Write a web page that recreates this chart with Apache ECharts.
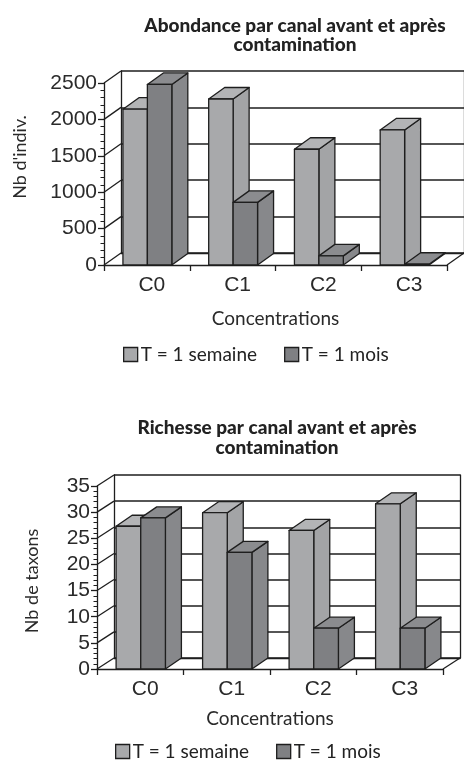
<!DOCTYPE html>
<html>
<head>
<meta charset="utf-8">
<script src="https://cdn.jsdelivr.net/npm/echarts@6/dist/echarts.min.js"></script>
<style>
html,body{margin:0;padding:0;background:#fff;}
#main{width:464px;height:760px;}
</style>
</head>
<body>
<div id="main"></div>
<script>
// ---- data ----
var categories = ['C0', 'C1', 'C2', 'C3'];
var seriesNames = ['T = 1 semaine', 'T = 1 mois'];
var abondanceSemaine = [2140, 2280, 1590, 1855];
var abondanceMois = [2480, 860, 125, 10];
var richesseSemaine = [27.3, 29.9, 26.5, 31.6];
var richesseMois = [28.9, 22.3, 7.8, 7.8];
var abondanceTicks = [0, 500, 1000, 1500, 2000, 2500];
var richesseTicks = [0, 5, 10, 15, 20, 25, 30, 35];
var title1 = 'Abondance par canal avant et après\ncontamination';
var title2 = 'Richesse par canal avant et après\ncontamination';
var yName1 = "Nb d'indiv.";
var yName2 = 'Nb de taxons';
var xName = 'Concentrations';

// ---- style ----
var INK = '#1e1e1e';
var FACES = [
  {front: '#a8a9ab', top: '#b3b4b6', side: '#a3a4a6'},
  {front: '#7f8083', top: '#8b8c8f', side: '#87888b'}
];
var LABEL_FONT = '"Liberation Sans", Arial, sans-serif';
var HUMAN_FONT = 'Lato, "Open Sans", sans-serif';

var chart = echarts.init(document.getElementById('main'), null, {renderer: 'canvas'});

function barRenderer(sIdx, dx, dy) {
  return function (params, api) {
    var cat = api.value(0), val = api.value(1);
    var topP = api.coord([cat, val]);
    var baseP = api.coord([cat, 0]);
    var bw = api.size([1, 0])[0];
    var w = bw * 0.285;
    var x0 = topP[0] - w + sIdx * w + 0.5;
    var x1 = x0 + w;
    var yT = topP[1], yB = baseP[1];
    var f = FACES[sIdx];
    var st = {stroke: INK, lineWidth: 1.3, lineJoin: 'round'};
    return {
      type: 'group',
      children: [
        {type: 'polygon', shape: {points: [[x1, yB], [x1 + dx, yB + dy], [x1 + dx, yT + dy], [x1, yT]]},
          style: Object.assign({fill: f.side}, st)},
        {type: 'polygon', shape: {points: [[x0, yT], [x0 + dx, yT + dy], [x1 + dx, yT + dy], [x1, yT]]},
          style: Object.assign({fill: f.top}, st)},
        {type: 'rect', shape: {x: x0, y: yT, width: w, height: yB - yT},
          style: Object.assign({fill: f.front}, st)}
      ]
    };
  };
}

function wallRenderer(dx, dy) {
  return function (params, api) {
    var v = api.value(0);
    var p = api.coord([0, v]);
    var cs = params.coordSys;
    var children = [{type: 'line', shape: {x1: cs.x, y1: p[1], x2: cs.x + dx, y2: p[1] + dy},
      style: {stroke: INK, lineWidth: 1.3}}];
    if (v === 0) {
      children.push({type: 'line', shape: {x1: cs.x + cs.width, y1: p[1], x2: cs.x + cs.width + dx, y2: p[1] + dy},
        style: {stroke: INK, lineWidth: 1.3}});
    }
    return {type: 'group', children: children};
  };
}

function frontY(gi, ticks) {
  return {
    type: 'value', gridIndex: gi, min: ticks[0], max: ticks[ticks.length - 1],
    interval: ticks[1] - ticks[0],
    axisLine: {show: true, lineStyle: {color: INK, width: 1.3}},
    axisTick: {show: true, length: 6, lineStyle: {color: INK, width: 1.3}},
    minorTick: {show: true, splitNumber: 5, length: 3.5, lineStyle: {color: INK, width: 1}},
    splitLine: {show: false},
    axisLabel: {show: true, fontFamily: LABEL_FONT, fontSize: 21, color: '#2a2a2a', margin: 7,
      formatter: function (v) { return String(v); }}
  };
}
function backY(gi, ticks, pos, split) {
  return {
    type: 'value', gridIndex: gi, position: pos, min: ticks[0], max: ticks[ticks.length - 1],
    interval: ticks[1] - ticks[0],
    axisLine: {show: true, onZero: false, lineStyle: {color: INK, width: 1.3}},
    axisTick: {show: false}, axisLabel: {show: false},
    splitLine: {show: split, lineStyle: {color: INK, width: 1.5}}
  };
}
function frontX(gi, gap) {
  return {
    type: 'category', gridIndex: gi, data: categories,
    axisLine: {show: true, lineStyle: {color: INK, width: 1.3}},
    axisTick: {show: true, length: 6, lineStyle: {color: INK, width: 1.3}},
    axisLabel: {fontFamily: LABEL_FONT, fontSize: 21, color: '#2a2a2a', margin: 10, padding: [0, 0, 0, 10]},
    name: xName, nameLocation: 'middle', nameGap: gap,
    nameTextStyle: {fontFamily: HUMAN_FONT, fontSize: 19, color: '#2a2a2a'}
  };
}
function backX(gi) {
  return {
    type: 'category', gridIndex: gi, data: categories,
    axisLine: {show: true, lineStyle: {color: INK, width: 1.3}},
    axisTick: {show: false}, axisLabel: {show: false}, splitLine: {show: false}
  };
}

function pairs(vals) { return vals.map(function (v, i) { return [i, v]; }); }

var D1 = {dx: 17, dy: -12}, D2 = {dx: 17, dy: -11};

function legendAt(left, top) {
  return {data: seriesNames, left: left, top: top, padding: 0, itemWidth: 14, itemHeight: 14, itemGap: 27,
    icon: 'rect', itemStyle: {borderColor: INK, borderWidth: 1.3},
    textStyle: {fontFamily: HUMAN_FONT, fontSize: 19, color: '#222', padding: [0, 0, 0, -2]}, selectedMode: false};
}

var option = {
  animation: false,
  backgroundColor: '#fff',
  title: [
    {text: title1, left: 290, top: 11, textAlign: 'center',
      textStyle: {fontFamily: HUMAN_FONT, fontWeight: 900, fontSize: 19, lineHeight: 19, color: '#222'}},
    {text: title2, left: 272, top: 413, textAlign: 'center',
      textStyle: {fontFamily: HUMAN_FONT, fontWeight: 900, fontSize: 19, lineHeight: 20, color: '#222'}}
  ],
  legend: [legendAt(123, 345), legendAt(115, 742)],
  grid: [
    {left: 104, top: 83, width: 343, height: 182},
    {left: 104 + D1.dx, top: 83 + D1.dy, width: 343, height: 182},
    {left: 97, top: 486, width: 346, height: 183},
    {left: 97 + D2.dx, top: 486 + D2.dy, width: 346, height: 183}
  ],
  xAxis: [frontX(0, 44), backX(1), frontX(2, 40), backX(3)],
  yAxis: [
    frontY(0, abondanceTicks),
    backY(1, abondanceTicks, 'left', true),
    backY(1, abondanceTicks, 'right', false),
    frontY(2, richesseTicks),
    backY(3, richesseTicks, 'left', true),
    backY(3, richesseTicks, 'right', false)
  ],
  graphic: [
    {type: 'text', x: 20, y: 157, rotation: Math.PI / 2,
      style: {text: yName1, font: '18px ' + HUMAN_FONT, fill: '#2a2a2a', align: 'center', verticalAlign: 'middle'}},
    {type: 'text', x: 32, y: 581, rotation: Math.PI / 2,
      style: {text: yName2, font: '18px ' + HUMAN_FONT, fill: '#2a2a2a', align: 'center', verticalAlign: 'middle'}}
  ],
  series: [
    {type: 'custom', name: 'walls1', xAxisIndex: 0, yAxisIndex: 0, z: 1, silent: true,
      renderItem: wallRenderer(D1.dx, D1.dy), encode: {y: 0}, data: abondanceTicks.map(function (v) { return [v]; })},
    {type: 'custom', name: seriesNames[0], xAxisIndex: 0, yAxisIndex: 0, z: 3,
      itemStyle: {color: FACES[0].front}, renderItem: barRenderer(0, D1.dx - 1, D1.dy + 0.5),
      encode: {x: 0, y: 1}, data: pairs(abondanceSemaine)},
    {type: 'custom', name: seriesNames[1], xAxisIndex: 0, yAxisIndex: 0, z: 4,
      itemStyle: {color: FACES[1].front}, renderItem: barRenderer(1, D1.dx - 1, D1.dy + 0.5),
      encode: {x: 0, y: 1}, data: pairs(abondanceMois)},
    {type: 'custom', name: 'walls2', xAxisIndex: 2, yAxisIndex: 3, z: 1, silent: true,
      renderItem: wallRenderer(D2.dx, D2.dy), encode: {y: 0}, data: richesseTicks.map(function (v) { return [v]; })},
    {type: 'custom', name: seriesNames[0], xAxisIndex: 2, yAxisIndex: 3, z: 3,
      itemStyle: {color: FACES[0].front}, renderItem: barRenderer(0, D2.dx - 1, D2.dy),
      encode: {x: 0, y: 1}, data: pairs(richesseSemaine)},
    {type: 'custom', name: seriesNames[1], xAxisIndex: 2, yAxisIndex: 3, z: 4,
      itemStyle: {color: FACES[1].front}, renderItem: barRenderer(1, D2.dx - 1, D2.dy),
      encode: {x: 0, y: 1}, data: pairs(richesseMois)}
  ]
};
chart.setOption(option);
</script>
</body>
</html>
